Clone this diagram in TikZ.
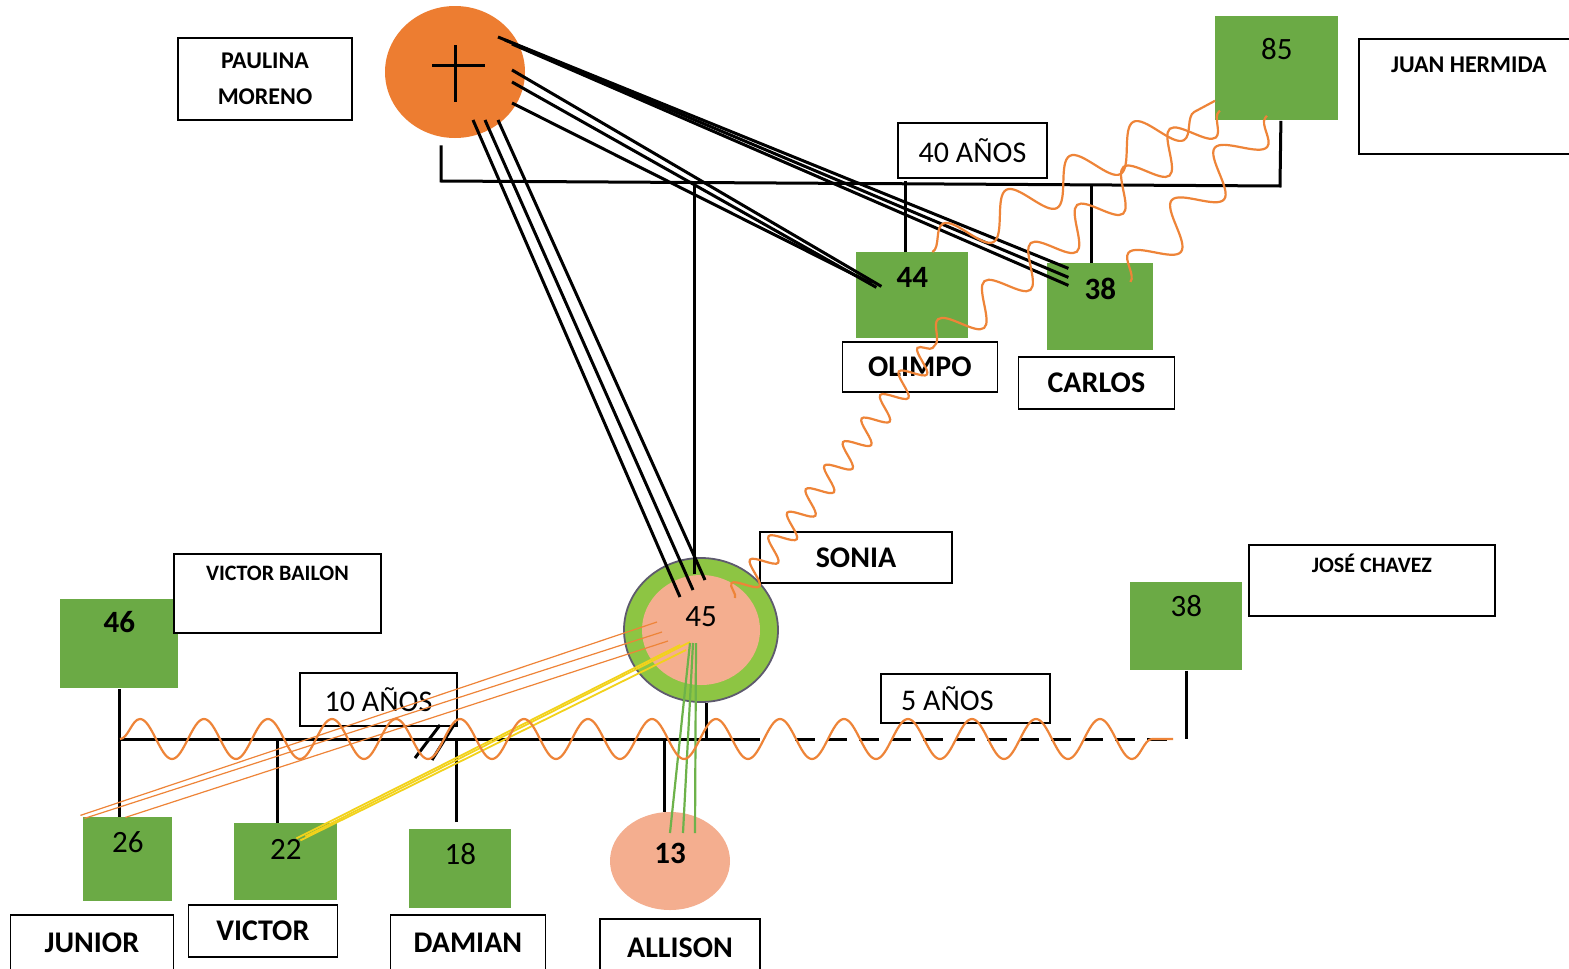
\documentclass[tikz,border=0pt]{standalone}
\usepackage{fontspec}
\setmainfont{Carlito}
\usepackage{xcolor}
\usepackage{tikz}
\usetikzlibrary{positioning,shapes.geometric,decorations.pathmorphing}

\definecolor{boxgreen}{HTML}{6BAA45}
\definecolor{pauorange}{HTML}{ED7D31}
\definecolor{salmon}{HTML}{F4AE8F}
\definecolor{ringgreen}{HTML}{8DC543}
\definecolor{ringedge}{HTML}{5E5A6E}
\definecolor{wavyorange}{HTML}{EE8438}
\definecolor{lineyellow}{HTML}{F2D21B}
\definecolor{linegreen}{HTML}{6DB24A}

\newcommand{\agefont}{\fontsize{15.5}{18}\selectfont}
\newcommand{\yearfont}{\fontsize{15}{18}\selectfont}
\newcommand{\namefont}{\fontsize{15}{18}\selectfont\bfseries}
\newcommand{\smallname}{\fontsize{12}{18}\selectfont\bfseries}
\newcommand{\tinyname}{\fontsize{11}{13}\selectfont\bfseries}

\begin{document}
\begin{tikzpicture}[x=0.5pt,y=-0.5pt,inner sep=0pt,
  person/.style={fill=boxgreen,anchor=north west,font=\agefont},
  namebox/.style={draw=black,fill=white,line width=0.9pt,font=\namefont},
  yearbox/.style={draw=black,fill=white,line width=0.9pt,font=\yearfont},
  ln/.style={line width=1.5pt},
  thin/.style={line width=0.6pt},
  wavy/.style 2 args={draw=wavyorange,line width=1.1pt,decorate,decoration={snake,segment length=#1,amplitude=#2}}]
\path[use as bounding box,fill=white] (0,0) rectangle (1569,969);

\node[namebox,minimum width=87pt,minimum height=41pt,align=center,font=\smallname] (paulbox) at (265,79) {PAULINA\\MORENO};
\node[ellipse,fill=pauorange,minimum width=70pt,minimum height=66pt] (paulina) at (455,72) {};
\node[person,minimum width=61.5pt,text height=21.5pt,text depth=30.5pt] (n85) at (1215,16) {85};
\node[namebox,anchor=north west,minimum width=110pt,text height=17pt,text depth=40.5pt,font=\smallname] (juan) at (1358,38) {JUAN HERMIDA};
\node[yearbox,minimum width=74.5pt,minimum height=27.5pt] (yr40) at (972.5,150.5) {40 AÑOS};

\node[person,font=\agefont\bfseries,minimum width=56pt,text height=17.5pt,text depth=25.5pt] (n44) at (856,252) {44};
\node[namebox,minimum width=77.5pt,minimum height=25pt,below=1pt of n44,xshift=3.75pt] (olimpo) {OLIMPO};
\node[person,font=\agefont\bfseries,minimum width=53pt,text height=18pt,text depth=25.5pt] (n38c) at (1047,263) {38};
\node[namebox,minimum width=78pt,minimum height=26pt,below=2.5pt of n38c,xshift=-2pt] (carlos) {CARLOS};

\node[ellipse,fill=ringgreen,draw=ringedge,line width=0.9pt,minimum width=77pt,minimum height=72pt] (sonout) at (701,630) {};
\node[ellipse,fill=salmon,minimum width=59pt,minimum height=55pt] (sonia) at (701,630) {};
\node[font=\agefont] (age45) at ([yshift=6.5pt]sonia.center) {45};
\node[namebox,minimum width=96pt,minimum height=25.5pt] (sonbox) at (856,557.5) {SONIA};

\node[person,font=\agefont\bfseries,minimum width=59pt,text height=16.5pt,text depth=28pt] (n46) at (60,599) {46};
\node[namebox,anchor=north west,minimum width=103.5pt,text height=13.5pt,text depth=26pt,font=\tinyname] (vbailon) at (173,553) {VICTOR BAILON};
\node[yearbox,minimum width=78.5pt,minimum height=26.5pt] (yr10) at (378.5,699.5) {10 AÑOS};
\node[yearbox,anchor=north west,minimum width=84.5pt,minimum height=24.5pt] (yr5) at (880,673) {5 AÑOS\rule{18pt}{0pt}};
\node[person,minimum width=56pt,text height=17pt,text depth=27pt] (n38j) at (1130,582) {38};
\node[namebox,anchor=north west,minimum width=123pt,text height=14pt,text depth=21.5pt,font=\tinyname] (jose) at (1248,544) {JOSÉ CHAVEZ};

\node[person,minimum width=44.5pt,text height=17.5pt,text depth=24.5pt] (n26) at (83,817) {26};
\node[namebox,minimum width=81.5pt,minimum height=28pt,below=6pt of n26,xshift=-18pt] (junior) {JUNIOR};
\node[person,minimum width=51.5pt,text height=18pt,text depth=20.5pt] (n22) at (234,823) {22};
\node[namebox,minimum width=74.5pt,minimum height=26pt,below=1.5pt of n22,xshift=-11.5pt] (victor) {VICTOR};
\node[person,minimum width=51pt,text height=17.5pt,text depth=22pt] (n18) at (409,829) {18};
\node[namebox,minimum width=77.5pt,minimum height=28pt,below=2.5pt of n18,xshift=3.75pt] (damian) {DAMIAN};
\node[ellipse,fill=salmon,minimum width=60pt,minimum height=49pt] (n13) at (670,861) {};
\node[font=\agefont\bfseries] (age13) at ([yshift=4pt]n13.center) {13};
\node[namebox,minimum width=80pt,minimum height=28.5pt,below=4pt of n13,xshift=5pt] (allison) {ALLISON};

\coordinate (topL) at (441,181);
\coordinate (topR) at (1280,186);
\coordinate (botL) at (120,739);
\coordinate (botM) at (760,739);
\coordinate (botD) at (795,739);
\coordinate (botR) at (1173,739);
\coordinate (cut) at (437,740);
\coordinate (bend) at (935,345);

\draw[ln] ([shift={(0,-27)}]paulina.center) -- ([shift={(0,30)}]paulina.center);
\draw[ln] ([shift={(-23,-7)}]paulina.center) -- ([shift={(30,-7)}]paulina.center);

\draw[ln] ([shift={(-14,7)}]paulina.south) -- (topL) -- (topR) -- ([xshift=2pt]n85.south);
\draw[ln] ([xshift=-3.5pt]n44.north) -- ([xshift=-3.5pt]n44.north |- topL);
\draw[ln] ([xshift=-4.5pt]n38c.north) -- ([xshift=-4.5pt]n38c.north |- topR);
\draw[ln] ([shift={(-7,17)}]sonout.north) -- ([xshift=-3.5pt]sonout.north |- topL);

\draw[ln] (botL) -- (botM);
\draw[ln,dash pattern=on 10pt off 6pt] (botD) -- (botR);
\draw[ln] (n46.south) -- (n46.south |- n26.north);
\draw[ln] ([xshift=-4pt]n22.north) -- ([xshift=-4pt]n22.north |- botL);
\draw[ln] ([shift={(-4,-7)}]n18.north) -- ([xshift=-2pt]n18.north |- botL);
\draw[ln] ([xshift=-3pt]n13.north) -- ([xshift=-3pt]n13.north |- botL);
\draw[ln] ([xshift=2.5pt]sonout.south) -- ([xshift=2.5pt]sonout.south |- botL);
\draw[ln] (n38j.south) -- (n38j.south |- botR);
\draw[ln] ([shift={(-22,18)}]cut) -- ([shift={(3,-15)}]cut)
          ([shift={(-5,20)}]cut) -- ([shift={(18,-17)}]cut);

\foreach \sx/\ex/\ey in {18/-21/-33, 30/-8/-40, 43/4/-50}
  \draw[ln] ([shift={(\sx,48)}]paulina.center) -- ([shift={(\ex,\ey)}]sonia.center);
\foreach \sy/\ex/\ey in {-2/-31/-9, 10/-36/-8, 31/-41/-12}
  \draw[ln] ([shift={(57,\sy)}]paulina.center) -- ([shift={(\ex,\ey)}]n44.center);
\foreach \sx/\sy/\ey in {43/-35/-38.5, 50/-32/-29.5, 57/-28/-21.5}
  \draw[ln] ([shift={(\sx,\sy)}]paulina.center) -- ([shift={(-32,\ey)}]n38c.center);

\foreach \sx/\sy/\ex/\ey in {-44/-8/-47.5/-44, -39/2/-43.5/-41, -33/11/-2.5/-42}
  \draw[thin,wavyorange] ([shift={(\sx,\sy)}]sonia.center) -- ([shift={(\ex,\ey)}]n26.center);
\foreach \sx/\sy/\ex/\ey in {-21/15/10.5/-23.5, -15/20/14.5/-21.5, -11/12/19.5/-25.5}
  \draw[thin,lineyellow,line width=0.9pt] ([shift={(\sx,\sy)}]sonia.center) -- ([shift={(\ex,\ey)}]n22.center);
\foreach \sx/\ex in {-11/0, -8/13, -5/25}
  \draw[linegreen,line width=1.1pt] ([shift={(\sx,13)}]sonia.center) -- ([shift={(\ex,-28)}]n13.center);

\draw[wavy={32pt}{10pt}] (botL) -- (botR);
\draw[wavy={15pt}{6pt}] ([shift={(34,-32)}]sonia.center) -- (bend);
\draw[wavy={30pt}{9pt}] (bend) -- ([shift={(5,-10)}]n85.south west);
\draw[wavy={36pt}{10pt}] ([shift={(20,0)}]n44.north) -- ([shift={(0,-20)}]n85.south west);
\draw[wavy={34pt}{10pt}] ([shift={(30,-25)}]n38c.center) -- ([shift={(-10,-5)}]n85.south);

\end{tikzpicture}
\end{document}
